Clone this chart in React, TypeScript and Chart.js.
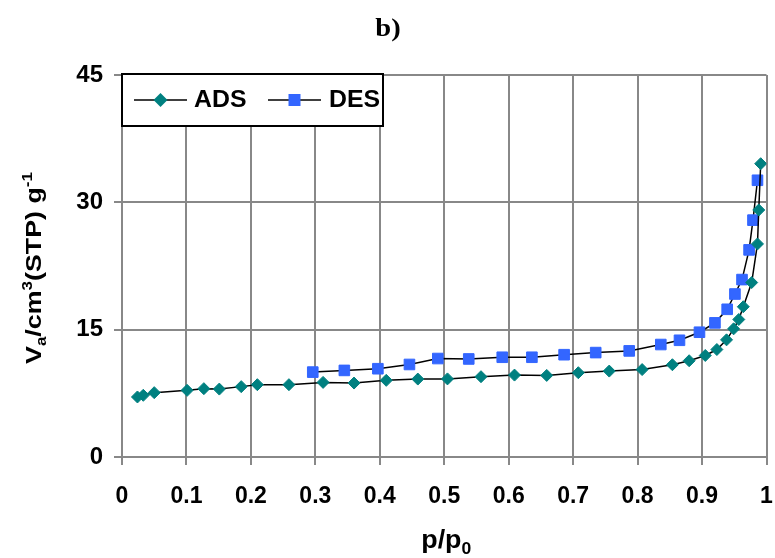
import React, { useEffect, useRef } from 'react';
import { Chart, registerables } from 'chart.js';

Chart.register(...registerables);

const chartTitle = 'b)';
const seriesLabels = ['ADS', 'DES'];

const adsP = [0.024, 0.033, 0.05, 0.101, 0.127, 0.151, 0.185, 0.21, 0.259, 0.312, 0.36, 0.41, 0.459, 0.505, 0.557, 0.609, 0.659, 0.708, 0.756, 0.807, 0.854, 0.88, 0.905, 0.923, 0.938, 0.949, 0.957, 0.964, 0.977, 0.986, 0.988, 0.991];
const adsV = [7.07, 7.27, 7.58, 7.85, 8.05, 8.0, 8.29, 8.52, 8.52, 8.79, 8.71, 9.03, 9.18, 9.2, 9.46, 9.65, 9.61, 9.93, 10.12, 10.3, 10.87, 11.34, 11.96, 12.66, 13.8, 15.1, 16.2, 17.7, 20.55, 25.1, 29.1, 34.55];

const desP = [0.296, 0.345, 0.397, 0.446, 0.49, 0.538, 0.59, 0.636, 0.686, 0.735, 0.787, 0.836, 0.865, 0.896, 0.92, 0.939, 0.951, 0.962, 0.973, 0.979, 0.986];
const desV = [10.0, 10.2, 10.4, 10.9, 11.6, 11.55, 11.75, 11.75, 12.05, 12.3, 12.5, 13.25, 13.75, 14.7, 15.8, 17.4, 19.2, 20.9, 24.4, 27.9, 32.6];

const xTickLabels = ['0', '0.1', '0.2', '0.3', '0.4', '0.5', '0.6', '0.7', '0.8', '0.9', '1'];
const yTickLabels = ['0', '15', '30', '45'];

const ADS_COLOR = '#008080';
const DES_COLOR = '#3366FF';
const GRID = '#888888';
const FONT = "'Liberation Sans', Arial, sans-serif";

type Seg = { t: string; mode?: 'sub' | 'sup' };

function drawRich(ctx: CanvasRenderingContext2D, segs: Seg[], size: number, targetLen: number | null) {
  const small = Math.round(size * 0.65);
  const widths = segs.map((s) => {
    ctx.font = `bold ${s.mode ? small : size}px ${FONT}`;
    return ctx.measureText(s.t).width;
  });
  const total = widths.reduce((a, b) => a + b, 0);
  const sx = targetLen ? targetLen / total : 1;
  ctx.save();
  ctx.scale(sx, 1);
  let x = -total / 2;
  ctx.textAlign = 'left';
  ctx.textBaseline = 'alphabetic';
  ctx.fillStyle = '#000';
  segs.forEach((s, i) => {
    ctx.font = `bold ${s.mode ? small : size}px ${FONT}`;
    const dy = s.mode === 'sub' ? size * 0.22 : s.mode === 'sup' ? -size * 0.42 : 0;
    ctx.fillText(s.t, x, dy);
    x += widths[i];
  });
  ctx.restore();
}

const decorPlugin = {
  id: 'decor',
  afterDraw(chart: any) {
    const ctx: CanvasRenderingContext2D = chart.ctx;
    const area = chart.chartArea;
    ctx.save();
    // chart title
    ctx.font = `bold 26px 'Liberation Serif', 'Times New Roman', serif`;
    ctx.fillStyle = '#000';
    ctx.textAlign = 'center';
    ctx.textBaseline = 'alphabetic';
    ctx.save();
    ctx.translate(388, 36);
    ctx.scale(1.1, 1);
    ctx.fillText(chartTitle, 0, 0);
    ctx.restore();

    // x axis title
    ctx.save();
    ctx.translate((area.left + area.right) / 2 + 2, 548);
    drawRich(ctx, [{ t: 'p/p' }, { t: '0', mode: 'sub' }], 26, 50);
    ctx.restore();

    // y axis title
    ctx.save();
    ctx.translate(41, 268);
    ctx.rotate(-Math.PI / 2);
    drawRich(
      ctx,
      [
        { t: 'V' },
        { t: 'a', mode: 'sub' },
        { t: '/cm' },
        { t: '3', mode: 'sup' },
        { t: '(STP) g' },
        { t: '-1', mode: 'sup' },
      ],
      22,
      192
    );
    ctx.restore();

    // legend box
    const bx = area.left, by = area.top - 1, bw = 261, bh = 52;
    ctx.fillStyle = '#fff';
    ctx.fillRect(bx, by, bw, bh);
    ctx.strokeStyle = '#000';
    ctx.lineWidth = 2;
    ctx.strokeRect(bx, by, bw, bh);
    const cy = by + bh / 2;
    const items = [
      { x0: bx + 12, color: ADS_COLOR, style: 'diamond', tx: bx + 72 },
      { x0: bx + 146, color: DES_COLOR, style: 'square', tx: bx + 207 },
    ];
    items.forEach((it, i) => {
      ctx.strokeStyle = '#000';
      ctx.lineWidth = 1.5;
      ctx.beginPath();
      ctx.moveTo(it.x0, cy);
      ctx.lineTo(it.x0 + 53, cy);
      ctx.stroke();
      const mx = it.x0 + 26.5;
      ctx.fillStyle = it.color;
      ctx.beginPath();
      if (it.style === 'diamond') {
        const r = 7;
        ctx.moveTo(mx - r, cy);
        ctx.lineTo(mx, cy - r);
        ctx.lineTo(mx + r, cy);
        ctx.lineTo(mx, cy + r);
        ctx.closePath();
      } else {
        const s = 6;
        ctx.rect(mx - s, cy - s, 2 * s, 2 * s);
      }
      ctx.fill();
      ctx.fillStyle = '#000';
      ctx.font = `bold 23px ${FONT}`;
      ctx.textAlign = 'left';
      ctx.textBaseline = 'middle';
      ctx.save();
      ctx.translate(it.tx, cy + 1);
      ctx.scale(1.08, 1);
      ctx.fillText(seriesLabels[i], 0, 0);
      ctx.restore();
    });
    ctx.restore();
  },
};

export default function App() {
  const ref = useRef<HTMLCanvasElement | null>(null);
  useEffect(() => {
    if (!ref.current) return;
    Chart.defaults.font.family = FONT;
    Chart.defaults.color = '#000';
    const chart = new Chart(ref.current, {
      type: 'line',
      data: {
        datasets: [
          {
            label: seriesLabels[0],
            data: adsP.map((p, i) => ({ x: p, y: adsV[i] })),
            borderColor: '#000',
            borderWidth: 1.5,
            pointStyle: 'rectRot',
            pointRadius: 6,
            pointBackgroundColor: ADS_COLOR,
            pointBorderColor: ADS_COLOR,
            pointBorderWidth: 1,
            tension: 0,
          },
          {
            label: seriesLabels[1],
            data: desP.map((p, i) => ({ x: p, y: desV[i] })),
            borderColor: '#000',
            borderWidth: 1.5,
            pointStyle: 'rect',
            pointRadius: 7.5,
            pointBackgroundColor: DES_COLOR,
            pointBorderColor: DES_COLOR,
            pointBorderWidth: 1,
            tension: 0,
          },
        ],
      },
      options: {
        responsive: false,
        animation: false,
        devicePixelRatio: 1,
        layout: { padding: { top: 75, right: 3, bottom: 0, left: 0 } },
        plugins: {
          legend: { display: false },
          title: { display: false },
          tooltip: { enabled: false },
        },
        scales: {
          x: {
            type: 'linear',
            min: 0,
            max: 1,
            ticks: {
              stepSize: 0.1,
              padding: 18,
              font: { size: 23, weight: 'bold' },
              color: '#000',
              maxRotation: 0,
              autoSkip: false,
              callback: (_v: any, i: number) => xTickLabels[i] ?? '',
            },
            grid: { color: GRID, lineWidth: 2, tickLength: 8 },
            border: { color: GRID, width: 2 },
            afterFit: (s: any) => {
              s.height = 101;
              s.paddingLeft = 0;
              s.paddingRight = 0;
            },
          },
          y: {
            type: 'linear',
            min: 0,
            max: 45,
            ticks: {
              stepSize: 15,
              padding: 11,
              font: { size: 24, weight: 'bold' },
              color: '#000',
              callback: (_v: any, i: number) => yTickLabels[i] ?? '',
            },
            grid: { color: GRID, lineWidth: 2, tickLength: 8 },
            border: { color: GRID, width: 2 },
            afterFit: (s: any) => {
              s.width = 122;
              s.paddingTop = 0;
              s.paddingBottom = 0;
            },
          },
        },
      },
      plugins: [decorPlugin],
    } as any);
    return () => chart.destroy();
  }, []);
  return (
    <div style={{ position: 'absolute', left: 0, top: 0, width: 775, height: 558, background: '#fff' }}>
      <canvas ref={ref} width={775} height={558} style={{ display: 'block' }} />
    </div>
  );
}
